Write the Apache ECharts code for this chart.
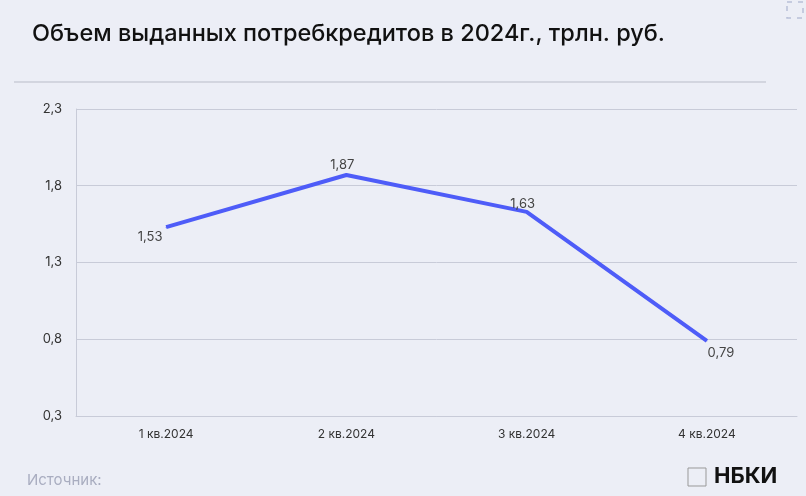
<!DOCTYPE html>
<html><head><meta charset="utf-8">
<script src="https://cdn.jsdelivr.net/npm/echarts@6/dist/echarts.min.js"></script>
<style>html,body{margin:0;padding:0;background:#eceef6;}#c{width:806px;height:496px;}</style>
</head><body><div id="c"></div>
<script>
const categories = ['1 кв.2024','2 кв.2024','3 кв.2024','4 кв.2024'];
const values = [1.53, 1.87, 1.63, 0.79];
const yTicks = [0.3, 0.8, 1.3, 1.8, 2.3];
const labelPos = [[-16, 22], [-4, 2], [-4, 4], [14, 24]];
const ch = echarts.init(document.getElementById('c'));
const fmt = v => String(v).replace('.', ',');
ch.setOption({
  backgroundColor: '#eceef6',
  animation: false,
  title: {text: 'Объем выданных потребкредитов в 2024г., трлн. руб.', left: 27, top: 17,
    textStyle: {fontFamily: 'Inter', fontSize: 23.5, fontWeight: 500, color: '#111'}},
  graphic: [
    {type: 'line', shape: {x1: 14, y1: 82, x2: 766, y2: 82}, style: {stroke: '#b9bcc8', lineWidth: 1}},
    {type: 'text', left: 27, top: 473, style: {text: 'Источник:', fill: '#a9adc0', font: '15px Inter'}},
    {type: 'text', left: 714, top: 465, style: {text: 'НБКИ', fill: '#111', font: 'bold 22px Inter'}},
    {type: 'rect', shape: {x: 688, y: 468, width: 18, height: 18}, style: {fill: 'none', stroke: '#999', lineWidth: 1}},
    {type: 'rect', shape: {x: 787, y: 2, width: 16, height: 16}, style: {fill: 'none', stroke: '#b8c0d8', lineWidth: 1.5, lineDash: [5, 6]}}
  ],
  grid: {left: 76, right: 9, top: 109, bottom: 80},
  xAxis: {type: 'category', data: categories, boundaryGap: true,
    axisLine: {lineStyle: {color: '#c8cbd8'}}, axisTick: {show: false},
    axisLabel: {color: '#333', fontFamily: 'Inter', fontSize: 12, margin: 12}},
  yAxis: {type: 'value', min: 0.3, max: 2.3, interval: 0.5,
    axisLine: {show: true, lineStyle: {color: '#c8cbd8'}}, axisTick: {show: false},
    splitLine: {lineStyle: {color: '#c8cbd8'}},
    axisLabel: {color: '#333', fontFamily: 'Inter', fontSize: 13, margin: 14,
      formatter: v => yTicks.includes(Math.round(v*10)/10) ? fmt(Math.round(v*10)/10) : ''}},
  series: [{type: 'line', symbol: 'circle', symbolSize: 1, showSymbol: true, lineStyle: {color: '#4e5cf8', width: 4},
    itemStyle: {color: '#4e5cf8'},
    label: {show: true, position: 'top', formatter: p => fmt(p.value), color: '#444', fontFamily: 'Inter', fontSize: 13},
    data: values.map((v, i) => ({value: v, label: {offset: labelPos[i]}}))}]
});
</script></body></html>
